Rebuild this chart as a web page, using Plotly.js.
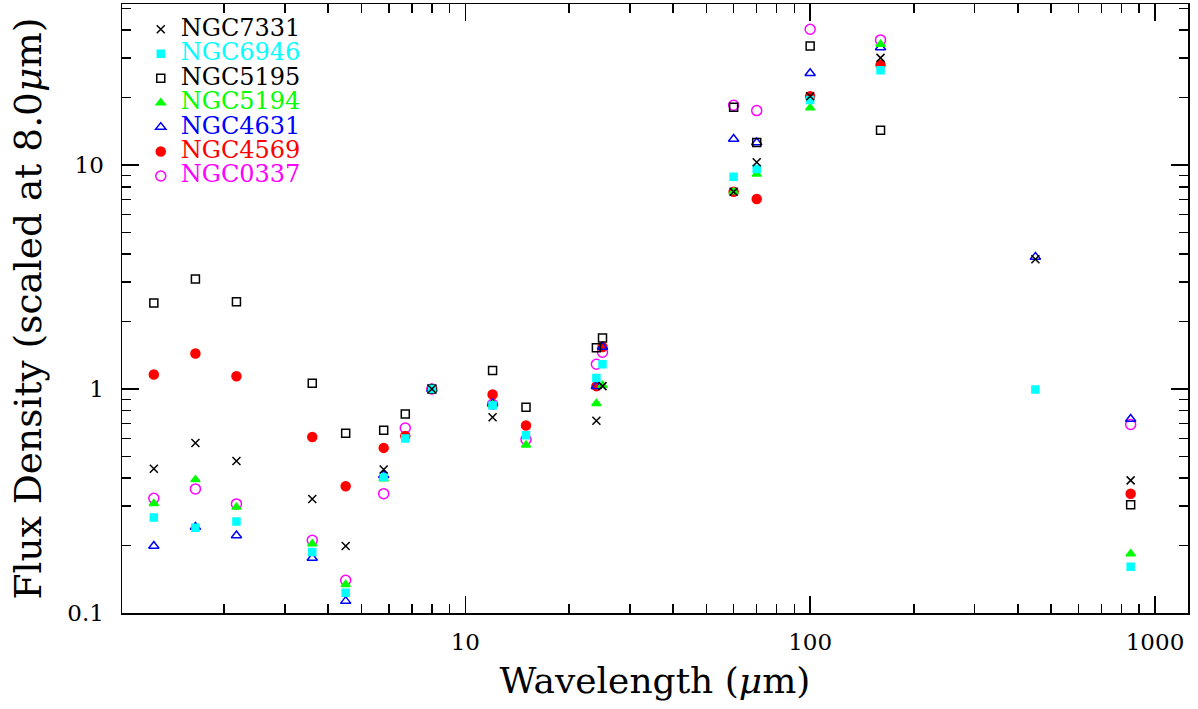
<!DOCTYPE html>
<html>
<head>
<meta charset="utf-8">
<script src="https://cdn.plot.ly/plotly-3.0.1.min.js"></script>
<style>html,body{margin:0;padding:0;background:#fff;}#chart{width:1198px;height:709px;}</style>
</head>
<body>
<div id="chart"></div>
<script>
// Wavelengths (micron)
var wavelength = [1.25, 1.65, 2.17, 3.6, 4.5, 5.8, 6.7, 8.0, 12, 15, 24, 25, 60, 70, 100, 160, 450, 850];

// Flux density scaled at 8.0 micron (null = no measurement)
var ngc7331 = [0.441, 0.574, 0.477, 0.323, 0.199, 0.437, null, 1.0, 0.748, null, 0.721, 1.03, 7.60, 10.3, 20.3, 30.1, 3.80, 0.391];
var ngc6946 = [0.267, 0.240, 0.256, 0.187, 0.123, 0.405, 0.601, 1.0, 0.844, 0.622, 1.12, 1.29, 8.86, 9.59, 19.5, 26.5, 0.995, 0.161];
var ngc5195 = [2.42, 3.10, 2.45, 1.06, 0.635, 0.654, 0.774, 1.0, 1.21, 0.829, 1.53, 1.69, 18.1, 12.6, 34.0, 14.3, null, 0.304];
var ngc5194 = [0.308, 0.394, 0.297, 0.204, 0.134, 0.398, null, 1.0, 0.85, 0.563, 0.861, 1.04, 7.6, 9.11, 18.0, 34.6, null, 0.184];
var ngc4631 = [0.199, 0.242, 0.222, 0.176, 0.113, 0.412, null, 1.0, 0.86, null, 1.03, 1.54, 13.06, 12.6, 25.7, 33.5, 3.89, 0.735];
var ngc4569 = [1.16, 1.44, 1.14, 0.611, 0.368, 0.546, 0.617, 1.0, 0.945, 0.687, 1.03, 1.54, 7.6, 7.05, 20.3, 28.0, null, 0.341];
var ngc0337 = [0.325, 0.358, 0.307, 0.211, 0.140, 0.341, 0.670, 1.0, 0.855, 0.595, 1.29, 1.46, 18.5, 17.5, 40.4, 36.2, null, 0.694];

var names = ['NGC7331', 'NGC6946', 'NGC5195', 'NGC5194', 'NGC4631', 'NGC4569', 'NGC0337'];
var seriesValues = [ngc7331, ngc6946, ngc5195, ngc5194, ngc4631, ngc4569, ngc0337];
var colors = ['#000000', '#00ffff', '#000000', '#00ff00', '#0000ff', '#ff0000', '#ff00ff'];
var symbols = ['x-thin-open', 'square', 'square-open', 'triangle-up', 'triangle-up-open', 'circle', 'circle-open'];
var sizes = [8, 7, 8, 8, 9, 9, 10];

var traces = [];
for (var i = names.length - 1; i >= 0; i--) {
  traces.push({
    x: wavelength,
    y: seriesValues[i],
    type: 'scatter',
    mode: 'markers',
    name: '<span style="font-size:24px;color:' + colors[i] + '">' + names[i] + '</span>',
    marker: {
      symbol: symbols[i],
      size: sizes[i],
      color: colors[i],
      line: {color: colors[i], width: 1.5}
    },
    cliponaxis: false
  });
}

var FONT = 'DejaVu Serif';
var axisCommon = {
  type: 'log',
  dtick: 1,
  exponentformat: 'none',
  showgrid: false,
  zeroline: false,
  showline: true,
  linecolor: '#000',
  linewidth: 1.5,
  mirror: 'allticks',
  ticks: 'inside',
  ticklen: 17,
  tickwidth: 1.5,
  tickcolor: '#000',
  tickfont: {family: FONT, size: 23, color: '#000'},
  minor: {ticks: 'inside', ticklen: 9, tickwidth: 1.5, tickcolor: '#000', dtick: 'D1', showgrid: false}
};

var layout = {
  width: 1198,
  height: 709,
  margin: {l: 122, r: 10, t: 4, b: 96},
  paper_bgcolor: '#fff',
  plot_bgcolor: '#fff',
  showlegend: true,
  legend: {
    x: 0.0176, y: 0.9867, xanchor: 'left', yanchor: 'top',
    traceorder: 'reversed',
    bgcolor: 'rgba(0,0,0,0)',
    borderwidth: 0,
    font: {family: FONT, size: 16.5, color: '#000'}
  },
  xaxis: Object.assign({}, axisCommon, {
    range: [0.0046, 3.0957],
    ticklabelstandoff: 8,
    title: {text: 'Wavelength (<i>μ</i>m)', font: {family: FONT, size: 36, color: '#000'}, standoff: 13}
  }),
  yaxis: Object.assign({}, axisCommon, {
    range: [-1, 1.719],
    ticklabelstandoff: 12,
    title: {text: 'Flux Density (scaled at 8.0<i>μ</i>m)', font: {family: FONT, size: 37.5, color: '#000'}, standoff: 14}
  })
};

Plotly.newPlot('chart', traces, layout, {displayModeBar: false, staticPlot: true});
</script>
</body>
</html>
